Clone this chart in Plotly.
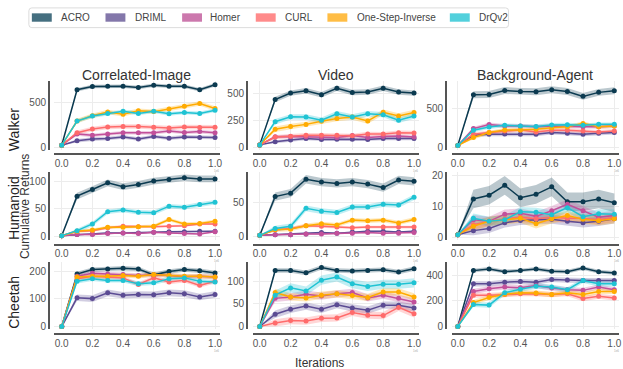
import plotly.graph_objects as go

W, H = 623, 369

x_vals = [0.0, 0.1, 0.2, 0.3, 0.4, 0.5, 0.6, 0.7, 0.8, 0.9, 1.0]
x_ticks = [0.0, 0.2, 0.4, 0.6, 0.8, 1.0]
x_ticktext = ["0.0", "0.2", "0.4", "0.6", "0.8", "1.0"]

methods = ["ACRO", "DRIML", "Homer", "CURL", "One-Step-Inverse", "DrQv2"]
line_colors = ["#0b3a50", "#5b4b93", "#c2509a", "#ff6b6b", "#ffab00", "#1fc3d3"]
legend_colors = ["#456f80", "#8377aa", "#cc78ad", "#ff8b8b", "#ffbd45", "#52d0dc"]
band_rgb = ["11,58,80", "91,75,147", "194,80,154", "255,107,107", "255,171,0", "31,195,211"]

envs = ["Walker", "Humanoid", "Cheetah"]
distractors = ["Correlated-Image", "Video", "Background-Agent"]

# ---- values (mean returns)
walker_ci = {
    "ACRO": [20, 640, 675, 678, 678, 665, 690, 678, 678, 640, 695],
    "DRIML": [20, 70, 88, 95, 113, 90, 117, 99, 113, 106, 106],
    "Homer": [20, 145, 130, 145, 160, 160, 158, 180, 162, 172, 158],
    "CURL": [20, 160, 200, 222, 228, 230, 220, 212, 224, 218, 220],
    "One-Step-Inverse": [20, 290, 350, 390, 365, 405, 395, 425, 455, 485, 430],
    "DrQv2": [20, 290, 345, 375, 400, 375, 400, 370, 385, 375, 410],
}
walker_video = {
    "ACRO": [20, 440, 500, 522, 485, 545, 505, 510, 545, 510, 500],
    "DRIML": [20, 48, 65, 78, 70, 73, 73, 70, 78, 78, 78],
    "Homer": [20, 95, 98, 95, 90, 88, 108, 88, 98, 102, 92],
    "CURL": [20, 92, 100, 110, 110, 110, 104, 122, 120, 133, 130],
    "One-Step-Inverse": [20, 165, 190, 210, 240, 265, 278, 242, 323, 288, 320],
    "DrQv2": [20, 235, 280, 278, 248, 308, 278, 308, 300, 248, 288],
}
walker_bg = {
    "ACRO": [20, 680, 682, 735, 722, 718, 744, 722, 658, 710, 732],
    "DRIML": [20, 154, 166, 170, 166, 166, 188, 179, 166, 179, 188],
    "Homer": [20, 240, 292, 273, 273, 262, 273, 273, 265, 262, 273],
    "CURL": [20, 166, 188, 209, 222, 196, 218, 218, 209, 196, 209],
    "One-Step-Inverse": [20, 124, 188, 222, 222, 230, 252, 262, 307, 262, 273],
    "DrQv2": [20, 218, 260, 282, 273, 268, 286, 290, 282, 295, 295],
}
humanoid_ci = {
    "ACRO": [2, 73, 85, 97, 90, 94, 100, 103, 106, 104, 104],
    "DRIML": [2, 4, 5, 7, 7, 7, 8, 9, 9, 10, 10],
    "Homer": [2, 4, 4, 6, 7, 6, 8, 7, 6, 5, 9],
    "CURL": [2, 10, 11, 16, 19, 18, 18, 19, 20, 23, 23],
    "One-Step-Inverse": [2, 10, 12, 17, 17, 18, 19, 31, 23, 24, 28],
    "DrQv2": [2, 11, 23, 45, 48, 44, 43, 55, 53, 58, 62],
}
humanoid_video = {
    "ACRO": [2, 58, 63, 83, 79, 77, 79, 76, 71, 82, 80],
    "DRIML": [2, 3, 3, 4, 6, 5, 7, 8, 8, 7, 8],
    "Homer": [2, 3, 3, 4, 4, 5, 5, 6, 5, 5, 6],
    "CURL": [2, 10, 12, 16, 15, 14, 13, 14, 14, 14, 14],
    "One-Step-Inverse": [2, 10, 11, 16, 18.6, 17, 24, 23, 24, 20, 25],
    "DrQv2": [2, 12, 15, 41, 37, 35, 43, 43, 47, 46, 57],
}
humanoid_bg = {
    "ACRO": [1, 12.5, 13.7, 16.9, 12.9, 14.0, 16.4, 11.6, 11.6, 12.5, 11.3],
    "DRIML": [1, 2.3, 3.0, 4.8, 5.6, 5.8, 6.0, 5.3, 4.8, 5.3, 6.1],
    "Homer": [1, 5.8, 5.3, 7.6, 7.9, 6.9, 8.7, 10.8, 8.7, 6.6, 7.2],
    "CURL": [1, 4.2, 5.3, 6.1, 6.6, 6.1, 6.6, 6.3, 6.3, 5.8, 6.6],
    "One-Step-Inverse": [1, 3.7, 5.3, 5.8, 6.3, 4.5, 6.1, 7.2, 6.0, 5.5, 6.1],
    "DrQv2": [1, 6.3, 5.3, 5.8, 8.4, 8.2, 7.4, 9.7, 6.8, 7.7, 7.6],
}
cheetah_ci = {
    "ACRO": [0, 190, 206, 208, 211, 208, 187, 199, 206, 202, 194],
    "DRIML": [0, 104, 101, 122, 113, 116, 115, 122, 119, 107, 116],
    "Homer": [0, 182, 193, 190, 188, 185, 187, 185, 180, 182, 179],
    "CURL": [0, 173, 182, 179, 176, 152, 176, 161, 167, 149, 164],
    "One-Step-Inverse": [0, 179, 182, 182, 185, 182, 188, 185, 182, 182, 179],
    "DrQv2": [0, 164, 173, 167, 167, 155, 158, 173, 176, 164, 161],
}
cheetah_video = {
    "ACRO": [0, 123, 123, 118, 130, 123, 122, 123, 125, 120, 127],
    "DRIML": [0, 27, 38, 45, 38, 48, 41, 36, 47, 47, 41],
    "Homer": [0, 62, 65, 71, 67, 72, 75, 63, 69, 62, 54],
    "CURL": [0, 8, 13, 12, 18, 19, 31, 25, 24, 42, 28],
    "One-Step-Inverse": [0, 75, 65, 63, 69, 72, 68, 64, 76, 76, 65],
    "DrQv2": [0, 69, 85, 78, 102, 109, 94, 88, 93, 93, 96],
}
cheetah_bg = {
    "ACRO": [0, 436, 449, 428, 436, 449, 431, 428, 456, 428, 418],
    "DRIML": [0, 333, 333, 346, 351, 346, 367, 362, 359, 359, 359],
    "Homer": [0, 274, 295, 308, 303, 320, 300, 287, 282, 308, 287],
    "CURL": [0, 244, 244, 249, 256, 256, 249, 256, 218, 236, 223],
    "One-Step-Inverse": [0, 187, 226, 251, 264, 261, 249, 264, 249, 274, 274],
    "DrQv2": [0, 172, 167, 264, 290, 315, 308, 287, 359, 333, 333],
}

# half-width of shaded band per method
band_walker_ci = [20, 20, 20, 25, 25, 20]
band_walker_video = [25, 15, 15, 20, 25, 25]
band_walker_bg = [45, 25, 25, 25, 25, 25]
band_humanoid_ci = [6, 1.5, 1.5, 2, 3, 4]
band_humanoid_video = [6, 1, 1, 2, 3, 4]
band_humanoid_bg = [3, 1.5, 1.5, 1.5, 1.5, 1.5]
band_cheetah_ci = [8, 12, 8, 8, 8, 8]
band_cheetah_video = [5, 8, 8, 8, 8, 10]
band_cheetah_bg = [15, 20, 20, 20, 20, 20]

panels = [
    [walker_ci, walker_video, walker_bg],
    [humanoid_ci, humanoid_video, humanoid_bg],
    [cheetah_ci, cheetah_video, cheetah_bg],
]
bands = [
    [band_walker_ci, band_walker_video, band_walker_bg],
    [band_humanoid_ci, band_humanoid_video, band_humanoid_bg],
    [band_cheetah_ci, band_cheetah_video, band_cheetah_bg],
]
y_ticks = [
    [[0, 500], [0, 250, 500], [0, 500]],
    [[0, 50, 100], [0, 50], [0, 10, 20]],
    [[0, 100, 200], [0, 50, 100], [0, 200, 400]],
]
y_ranges = [
    [[-33, 738], [-27, 613], [-38, 859]],
    [[-5.3, 117], [-4.3, 94], [-0.63, 21.3]],
    [[-10.7, 232], [-6.5, 141], [-23, 500]],
]

# ---- layout geometry (pixels)
col_px = [(53, 220), (253, 420), (453, 621)]
yline_px = [48, 247, 447]
row_px = [(81, 151), (173, 242), (265, 333)]
xline_px = [155, 247, 338]
x_ranges = [[-0.052, 1.032], [-0.045, 1.032], [-0.038, 1.03]]

FONT = "Liberation Sans, Arial, sans-serif"

fig = go.Figure()
layout = {}
annotations = []
shapes = []

for r in range(3):
    for c in range(3):
        k = r * 3 + c + 1
        xa = "x" if k == 1 else f"x{k}"
        ya = "y" if k == 1 else f"y{k}"
        data = panels[r][c]
        bw = bands[r][c]
        for i, m in enumerate(methods):
            vals = data[m]
            hw = [0] + [bw[i]] * (len(vals) - 1)
            upper = [v + h for v, h in zip(vals, hw)]
            lower = [v - h for v, h in zip(vals, hw)]
            fig.add_trace(go.Scatter(
                x=x_vals + x_vals[::-1], y=upper + lower[::-1],
                fill="toself", fillcolor=f"rgba({band_rgb[i]},0.28)",
                line=dict(width=0), mode="lines", hoverinfo="skip",
                showlegend=False, xaxis=xa, yaxis=ya))
        for i, m in enumerate(methods):
            fig.add_trace(go.Scatter(
                x=x_vals, y=data[m], mode="lines+markers",
                line=dict(color=line_colors[i], width=1.5),
                marker=dict(color=line_colors[i], size=5),
                showlegend=False, xaxis=xa, yaxis=ya, name=m))
        xl = "xaxis" if k == 1 else f"xaxis{k}"
        yl = "yaxis" if k == 1 else f"yaxis{k}"
        layout[xl] = dict(
            domain=[col_px[c][0] / W, col_px[c][1] / W],
            range=x_ranges[c], anchor="free", position=1 - xline_px[r] / H,
            showline=True, linecolor="#555", linewidth=1.5,
            tickvals=x_ticks, ticktext=x_ticktext, ticks="",
            tickfont=dict(size=10, color="#555", family=FONT),
            showgrid=True, gridcolor="#ececec", gridwidth=1, zeroline=False)
        layout[yl] = dict(
            domain=[1 - row_px[r][1] / H, 1 - row_px[r][0] / H],
            range=y_ranges[r][c], anchor="free", position=yline_px[c] / W,
            showline=True, linecolor="#555", linewidth=1.5,
            tickvals=y_ticks[r][c], ticks="",
            tickfont=dict(size=10, color="#555", family=FONT),
            showgrid=True, gridcolor="#ececec", gridwidth=1, zeroline=False)
        annotations.append(dict(
            text="1e6", x=(col_px[c][1] - 3) / W, y=1 - (xline_px[r] + 17) / H,
            xref="paper", yref="paper", showarrow=False, xanchor="center",
            yanchor="middle", font=dict(size=3, color="#aaa")))

# ---- legend (box, swatches, labels)
leg_box = (28, 7, 510, 27)
leg_swatch_x = [31, 105, 182, 256, 328, 451]
leg_text_x = [58, 133, 208, 283, 356, 478]
bx0, by0, bx1, by1 = leg_box[0] / W, 1 - leg_box[3] / H, leg_box[2] / W, 1 - leg_box[1] / H
rx, ry = 3 / W, 3 / H
shapes.append(dict(
    type="path", xref="paper", yref="paper",
    path=(f"M{bx0 + rx},{by0} L{bx1 - rx},{by0} Q{bx1},{by0} {bx1},{by0 + ry} "
          f"L{bx1},{by1 - ry} Q{bx1},{by1} {bx1 - rx},{by1} L{bx0 + rx},{by1} "
          f"Q{bx0},{by1} {bx0},{by1 - ry} L{bx0},{by0 + ry} Q{bx0},{by0} {bx0 + rx},{by0} Z"),
    line=dict(color="#dcdcdc", width=1), fillcolor="white", layer="below"))
for i, m in enumerate(methods):
    shapes.append(dict(type="rect", xref="paper", yref="paper",
                       x0=leg_swatch_x[i] / W, x1=(leg_swatch_x[i] + 20) / W,
                       y0=1 - 21 / H, y1=1 - 12.5 / H,
                       line=dict(width=0), fillcolor=legend_colors[i]))
    annotations.append(dict(
        text=m, x=leg_text_x[i] / W, y=1 - 16.8 / H, xref="paper", yref="paper",
        showarrow=False, xanchor="left", yanchor="middle",
        font=dict(size=10, color="#444", family=FONT)))

for c, t in enumerate(distractors):
    annotations.append(dict(
        text=t, x=(col_px[c][0] + col_px[c][1]) / 2 / W, y=1 - 75 / H,
        xref="paper", yref="paper", showarrow=False, xanchor="center", yanchor="middle",
        font=dict(size=14, color="#333", family=FONT)))

row_label_y = [130, 210, 305]
for r, e in enumerate(envs):
    annotations.append(dict(
        text=e, x=13 / W, y=1 - row_label_y[r] / H, xref="paper", yref="paper",
        showarrow=False, textangle=-90, xanchor="center", yanchor="middle",
        font=dict(size=14, color="#222", family=FONT)))

annotations.append(dict(
    text="Cumulative Returns", x=24 / W, y=1 - 208 / H, xref="paper", yref="paper",
    showarrow=False, textangle=-90, xanchor="center", yanchor="middle",
    font=dict(size=12, color="#333", family=FONT)))
annotations.append(dict(
    text="Iterations", x=320 / W, y=1 - 362 / H, xref="paper", yref="paper",
    showarrow=False, xanchor="center", yanchor="middle", yshift=-5,
    font=dict(size=12, color="#333", family=FONT)))

fig.update_layout(
    width=W, height=H, margin=dict(l=0, r=0, t=0, b=0),
    paper_bgcolor="white", plot_bgcolor="white",
    font=dict(family=FONT),
    showlegend=False,
    annotations=annotations,
    shapes=shapes,
    **layout)

fig.write_html(
    "out.html",
    config={"displayModeBar": False},
    post_script="document.body.style.margin='0';document.body.style.overflow='hidden';")
